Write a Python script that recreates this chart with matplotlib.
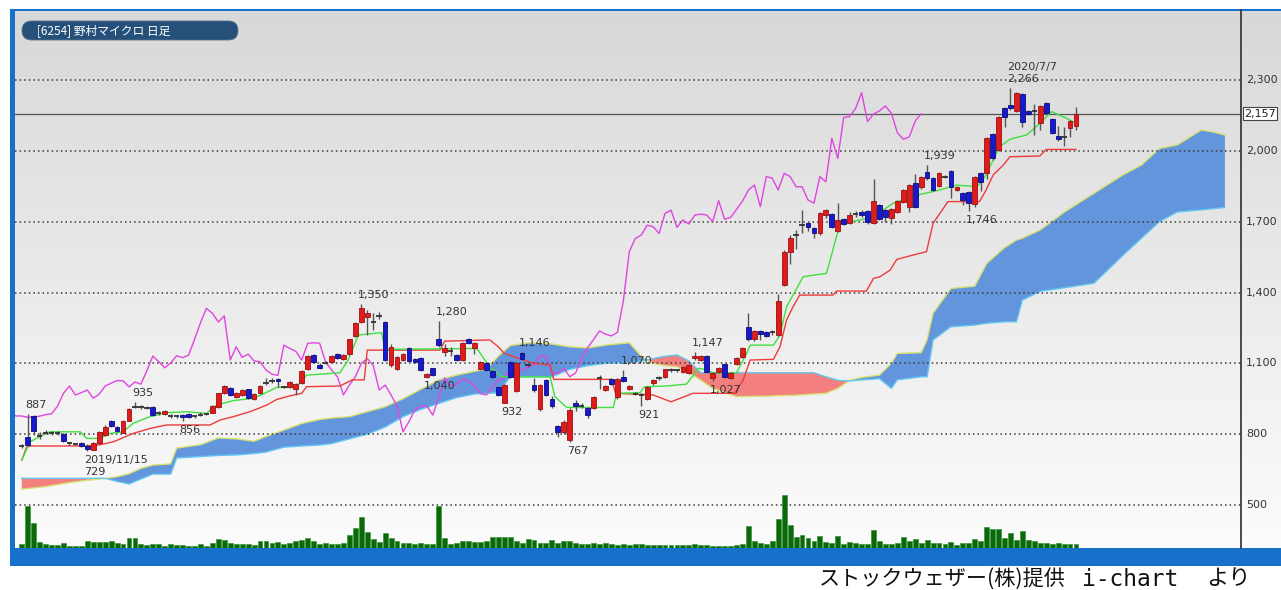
import numpy as np
import matplotlib
matplotlib.use("Agg")
import matplotlib.pyplot as plt
from matplotlib.patches import Rectangle, FancyBboxPatch
from matplotlib.colors import LinearSegmentedColormap

plt.rcParams['font.family'] = ['DejaVu Sans']
CJK = ['Noto Sans CJK JP', 'DejaVu Sans']

# ---------------- data (daily candles, index 0 = 2019/10/30) ----------------
opens = [750, 786, 877, 795, 808, 803, 804, 800, 764, 760,
         764, 752, 735, 761, 796, 857, 832, 806, 857, 915,
         916, 913, 916, 892, 884, 879, 878, 880, 885, 877,
         884, 885, 891, 916, 976, 994, 956, 966, 990, 947,
         973, 1014, 1025, 1035, 1002, 998, 993, 1015, 1074, 1134,
         1095, 1104, 1107, 1139, 1118, 1139, 1216, 1276, 1296, 1277,
         1300, 1276, 1093, 1074, 1114, 1166, 1120, 1121, 1043, 1079,
         1201, 1149, 1153, 1135, 1114, 1203, 1163, 1074, 1100, 1067,
         1001, 933, 1107, 984, 1143, 1094, 1008, 905, 1029, 951,
         834, 810, 775, 930, 921, 912, 909, 1040, 987, 1032,
         956, 1043, 991, 974, 968, 951, 1015, 1036, 1043, 1071,
         1071, 1064, 1060, 1121, 1114, 1132, 1036, 1064, 1096, 1036,
         1097, 1128, 1255, 1201, 1238, 1234, 1230, 1220, 1432, 1573,
         1640, 1686, 1693, 1674, 1650, 1728, 1732, 1662, 1710, 1693,
         1733, 1742, 1745, 1696, 1770, 1749, 1714, 1742, 1785, 1764,
         1862, 1848, 1912, 1884, 1851, 1893, 1916, 1834, 1823, 1827,
         1775, 1905, 1905, 2071, 2003, 2180, 2194, 2170, 2239, 2170,
         2171, 2119, 2201, 2133, 2063, 2061, 2095, 2105]
highs = [757, 887, 882, 808, 818, 812, 812, 804, 768, 764,
         766, 760, 765, 815, 838, 862, 836, 860, 910, 935,
         925, 918, 920, 897, 901, 885, 882, 884, 888, 882,
         892, 890, 922, 976, 1008, 998, 980, 990, 993, 973,
         1008, 1036, 1036, 1040, 1006, 1024, 1015, 1072, 1135, 1138,
         1100, 1110, 1135, 1145, 1140, 1205, 1276, 1350, 1328, 1314,
         1318, 1280, 1180, 1130, 1143, 1170, 1124, 1125, 1058, 1082,
         1280, 1180, 1170, 1140, 1190, 1206, 1190, 1112, 1104, 1071,
         1006, 1012, 1110, 1105, 1146, 1100, 1040, 1012, 1035, 960,
         840, 860, 910, 945, 930, 916, 960, 1050, 1010, 1040,
         1037, 1070, 1010, 980, 975, 1005, 1035, 1045, 1078, 1080,
         1078, 1090, 1098, 1147, 1135, 1136, 1062, 1084, 1100, 1064,
         1125, 1170, 1312, 1242, 1242, 1238, 1240, 1392, 1578, 1643,
         1664, 1750, 1700, 1678, 1740, 1752, 1736, 1778, 1714, 1740,
         1745, 1750, 1748, 1880, 1775, 1752, 1756, 1790, 1840, 1860,
         1900, 1895, 1939, 1888, 1910, 1898, 1920, 1852, 1827, 1830,
         1895, 1910, 2058, 2075, 2146, 2185, 2266, 2250, 2243, 2174,
         2200, 2194, 2205, 2137, 2105, 2100, 2130, 2185]
lows = [740, 748, 795, 780, 800, 798, 795, 768, 755, 754,
        747, 729, 731, 758, 792, 830, 811, 803, 855, 910,
        905, 905, 878, 882, 880, 870, 870, 856, 868, 870,
        876, 880, 888, 912, 972, 962, 952, 962, 950, 944,
        970, 1008, 1018, 998, 995, 994, 966, 1012, 1070, 1103,
        1078, 1096, 1103, 1120, 1114, 1135, 1212, 1270, 1220, 1240,
        1286, 1110, 1085, 1070, 1110, 1105, 1100, 1066, 1040, 1045,
        1170, 1130, 1130, 1110, 1110, 1183, 1140, 1070, 1068, 1038,
        962, 932, 1040, 980, 1115, 1085, 980, 900, 960, 910,
        790, 800, 767, 900, 912, 870, 905, 990, 982, 1008,
        950, 1020, 985, 965, 921, 945, 1010, 1028, 1040, 1064,
        1064, 1060, 1056, 1116, 1110, 1060, 1027, 1060, 1040, 1032,
        1093, 1124, 1196, 1196, 1200, 1210, 1220, 1215, 1428, 1520,
        1586, 1650, 1660, 1630, 1645, 1715, 1672, 1658, 1686, 1690,
        1720, 1720, 1690, 1690, 1705, 1700, 1690, 1738, 1780, 1740,
        1760, 1840, 1878, 1830, 1845, 1886, 1800, 1830, 1770, 1746,
        1763, 1830, 1880, 1960, 1998, 2100, 2175, 2165, 2100, 2150,
        2067, 2090, 2155, 2073, 2040, 2020, 2060, 2090]
closes = [752, 756, 813, 793, 806, 804, 803, 772, 761, 758,
          750, 736, 762, 810, 832, 834, 815, 857, 905, 917,
          914, 911, 881, 890, 898, 877, 877, 871, 874, 876,
          883, 886, 919, 973, 1004, 966, 976, 987, 952, 970,
          1004, 1016, 1027, 1026, 1000, 1021, 1012, 1069, 1131, 1107,
          1081, 1102, 1132, 1124, 1135, 1201, 1272, 1333, 1312, 1275,
          1301, 1114, 1170, 1125, 1139, 1110, 1107, 1072, 1054, 1049,
          1177, 1163, 1151, 1114, 1185, 1187, 1185, 1107, 1072, 1043,
          966, 1008, 1043, 1100, 1120, 1092, 987, 1008, 966, 919,
          810, 853, 902, 919, 920, 881, 956, 1038, 1004, 1012,
          1033, 1025, 1005, 972, 966, 1001, 1029, 1037, 1074, 1072,
          1070, 1085, 1093, 1132, 1131, 1064, 1057, 1079, 1043, 1060,
          1121, 1166, 1201, 1237, 1224, 1216, 1231, 1365, 1573, 1629,
          1643, 1685, 1679, 1650, 1735, 1749, 1676, 1707, 1690, 1728,
          1732, 1728, 1700, 1789, 1710, 1718, 1752, 1787, 1834, 1855,
          1764, 1891, 1884, 1834, 1905, 1891, 1848, 1848, 1792, 1778,
          1891, 1869, 2053, 1968, 2142, 2145, 2180, 2246, 2124, 2156,
          2169, 2190, 2159, 2077, 2049, 2059, 2126, 2157]
volumes = [12, 125, 75, 18, 11, 9, 9, 14, 7, 7,
           7, 20, 17, 17, 17, 20, 15, 11, 30, 30,
           11, 9, 12, 11, 6, 13, 9, 9, 6, 6,
           12, 6, 15, 27, 25, 14, 11, 12, 11, 9,
           22, 22, 14, 18, 13, 14, 20, 25, 29, 20,
           12, 14, 12, 12, 14, 38, 60, 92, 47, 27,
           18, 44, 30, 22, 14, 14, 12, 14, 11, 11,
           125, 30, 13, 14, 20, 20, 18, 18, 22, 32,
           32, 32, 32, 22, 15, 27, 24, 15, 15, 24,
           14, 22, 20, 14, 12, 11, 14, 11, 14, 11,
           9, 11, 9, 12, 11, 9, 8, 9, 9, 8,
           9, 9, 10, 12, 10, 9, 6, 5, 5, 7,
           8, 11, 65, 20, 14, 12, 20, 88, 160, 70,
           33, 40, 30, 20, 37, 18, 15, 35, 11, 17,
           15, 12, 13, 55, 20, 11, 11, 15, 32, 20,
           28, 14, 23, 15, 14, 11, 18, 9, 14, 15,
           28, 22, 62, 57, 58, 30, 45, 25, 50, 23,
           20, 14, 14, 11, 14, 11, 12, 12]

# conversion line (green) and base line (red), read as vertices
tenkan_x = [0, 1.4, 3, 4.7, 9.8, 10.9, 13.1, 14.8, 17, 18.7, 21.5, 24.3, 27.7, 31, 32.7,
            35.5, 38.9, 40.5, 42.8, 45.6, 46.7, 47.8, 53.4, 54.8, 56.5, 60.4, 61, 76.4,
            78.6, 80.6, 88.7, 89.5, 91.5, 99.3, 99.9, 103.8, 104.6, 108.3, 111.6, 113.6,
            115, 116, 120, 121.7, 122.3, 126.2, 127.3, 128.4, 131.2, 135.1, 137.4, 140.7,
            143, 146.3, 150.8, 154.1, 156.9, 160.3, 161.4, 163.1, 164.2, 165.9, 168.7,
            170.9, 172.9, 175.4, 177]
tenkan_v = [690, 768, 789, 810, 810, 782, 782, 803, 810, 846, 874, 891, 895, 888, 923,
            942, 952, 970, 998, 998, 1015, 1050, 1060, 1114, 1220, 1230, 1159, 1163,
            1083, 1043, 1043, 959, 913, 913, 973, 976, 1001, 1004, 1012, 1079,
            1072, 1060, 1060, 1142, 1177, 1177, 1220, 1340, 1467, 1481, 1693, 1707,
            1721, 1778, 1815, 1834, 1855, 1848, 1876, 1961, 2018, 2049, 2067,
            2116, 2166, 2138, 2116]
kijun_x = [0, 0.8, 1.5, 10.9, 13.1, 15.4, 18.7, 21.5, 24.3, 31.6, 33.3, 35.5, 38.3, 41.1,
           42.8, 45.6, 47, 47.8, 53.4, 55.5, 57.5, 58, 70.2, 71, 78.6, 80, 81, 85.9, 88.7,
           89.3, 99, 99.7, 106, 109, 112.7, 119.7, 121.1, 122.3, 126.2, 127.3, 128.4,
           129.5, 130.6, 136.2, 136.8, 141.8, 143, 144.1, 145.8, 146.9, 149.7, 151.9,
           153, 155.5, 160.8, 161.9, 163.1, 164.8, 165.9, 170.9, 172, 177]
kijun_v = [690, 745, 750, 750, 755, 768, 803, 824, 839, 839, 860, 874, 895, 923,
           947, 966, 973, 1001, 1004, 1030, 1030, 1156, 1156, 1194, 1199, 1170, 1142, 1100, 1093,
           1032, 1032, 973, 966, 937, 973, 973, 1029, 1114, 1117, 1170, 1283,
           1340, 1389, 1389, 1406, 1406, 1460, 1467, 1495, 1540, 1559, 1573,
           1693, 1785, 1785, 1834, 1898, 1940, 1975, 1978, 2006, 2006]

# leading spans (cloud), read at common positions
cloud_x = [0, 4, 8, 11, 14, 16, 18, 20, 22, 25, 26, 30, 33, 36, 39, 41, 44, 47, 50, 52,
           55, 58, 61, 64, 67, 70, 73, 76, 78, 80, 82, 85, 89, 92, 95, 98, 102, 104, 106,
           108, 110, 112, 114, 116, 120, 125, 130, 133, 135, 137, 139, 141, 144, 146,
           147, 151, 152, 153, 156, 160, 162, 165, 167, 168, 171, 175, 180, 185, 188,
           191, 194, 198, 200, 202]
span_a = [567, 578, 595, 605, 612, 620, 632, 655, 669, 674, 741, 755, 784, 780, 770, 790,
          817, 845, 862, 868, 874, 895, 916, 950, 990, 1030, 1050, 1066, 1075, 1130, 1175,
          1187, 1182, 1170, 1165, 1177, 1187, 1130, 1100, 1090, 1086, 1060, 1029, 994, 959,
          961, 965, 970, 973, 994, 1028, 1040, 1050, 1100, 1142, 1145, 1200, 1312, 1417,
          1427, 1523, 1590, 1622, 1630, 1665, 1740, 1820, 1900, 1940, 2010, 2025, 2088,
          2080, 2067]
span_b = [613, 613, 613, 613, 613, 600, 589, 610, 631, 631, 699, 705, 710, 712, 718, 724,
          745, 750, 754, 760, 780, 800, 830, 874, 905, 930, 955, 970, 973, 975, 1043,
          1043, 1043, 1075, 1090, 1100, 1103, 1110, 1120, 1130, 1135, 1110, 1060, 1060,
          1060, 1060, 1060, 1060, 1043, 1028, 1025, 1030, 1035, 994, 1030, 1043, 1043,
          1199, 1255, 1262, 1270, 1276, 1276, 1368, 1405, 1420, 1439, 1560, 1630, 1700,
          1741, 1750, 1755, 1760]

price_ticks = [500, 800, 1100, 1400, 1700, 2000, 2300]
date_idx = [12, 27, 42, 57, 72, 87, 102, 117, 132, 147, 162, 177, 192]
date_labels = ['19/11/18', '19/12/9', '19/12/30', '20/1/27', '20/2/18', '20/3/11',
               '20/4/2', '20/4/23', '20/5/20', '20/6/10', '20/7/1', '20/7/22', '20/8/5']
last_price = 2157
# (candle index, value, 'hi'/'lo', date text)
marks = [(1, 887, 'hi', ''), (19, 935, 'hi', ''), (27, 856, 'lo', ''),
         (11, 729, 'lo', '2019/11/15'), (57, 1350, 'hi', ''), (70, 1280, 'hi', ''),
         (68, 1040, 'lo', ''), (84, 1146, 'hi', ''), (81, 932, 'lo', ''),
         (92, 767, 'lo', ''), (101, 1070, 'hi', ''), (104, 921, 'lo', ''),
         (113, 1147, 'hi', ''), (116, 1027, 'lo', ''), (152, 1939, 'hi', ''),
         (159, 1746, 'lo', ''), (166, 2266, 'hi', '2020/7/7')]
title = '[6254] 野村マイクロ 日足'
credit_parts = ['ストックウェザー(株)提供', 'i-chart', 'より']

# ---------------- layout ----------------
W, H = 1281, 590
PL, PR, PT, PB = 15, 1241, 10, 548          # plot box in pixels
X0, DX = 21.8, 5.956                          # first candle pixel, spacing
Y_REF, Y_REF_PX, PX_PER = 2300, 80, 425 / 1800

fig = plt.figure(figsize=(W / 100, H / 100), dpi=100)

bg = fig.add_axes([0, 0, 1, 1], zorder=0)
grad = np.linspace(0, 1, 256)[:, None]
cmap = LinearSegmentedColormap.from_list('g', ['#d8d8d8', '#fcfcfc'])
bg.imshow(grad, extent=(PL, W, PB, PT), cmap=cmap, aspect='auto', origin='upper')
bg.set_xlim(0, W); bg.set_ylim(H, 0); bg.axis('off')

rect = [PL / W, 1 - PB / H, (PR - PL) / W, (PB - PT) / H]
ax = fig.add_axes(rect, zorder=2)
ax.patch.set_alpha(0)
xlim = ((PL - X0) / DX, (PR - X0) / DX)
ylim = (Y_REF - (PB - Y_REF_PX) / PX_PER, Y_REF + (Y_REF_PX - PT) / PX_PER)
ax.set_xlim(*xlim); ax.set_ylim(*ylim)
ax.set_axis_off()

vax = fig.add_axes([PL / W, 1 - PB / H, (PR - PL) / W, 54 / H], zorder=1.5)
vax.patch.set_alpha(0)
vax.set_xlim(*xlim); vax.set_ylim(0, 162)
vax.set_axis_off()

idx = np.arange(len(closes))
o = np.array(opens); h = np.array(highs); l = np.array(lows); c = np.array(closes)

# volume
vax.bar(idx, volumes, width=0.82, color='#0b680b', edgecolor='#3b953b', lw=0.5)

# cloud
cx = np.array(cloud_x, float); sa = np.array(span_a, float); sb = np.array(span_b, float)
ax.fill_between(cx, sa, sb, where=sa >= sb, interpolate=True, color='#6395dc', lw=0, zorder=1)
ax.fill_between(cx, sa, sb, where=sa < sb, interpolate=True, color='#f47f7f', lw=0, zorder=1)
ax.plot(cx, sa, color='#d8e070', lw=1.0, zorder=1.5)
ax.plot(cx, sb, color='#62c6f2', lw=1.0, zorder=1.5)

# grid + last price
ax.hlines(price_ticks, xlim[0], xlim[1], colors='#3a3a3a', linestyles=(0, (1, 2)), lw=1.1, zorder=2)
ax.axhline(last_price, color='#555555', lw=0.9, zorder=2)

# lagging span (closes shifted back 26 sessions), conversion and base lines
ax.plot(idx - 26, c, color='#e045e0', lw=1.0, zorder=3)
ax.plot(kijun_x, kijun_v, color='#ee3b3b', lw=1.0, zorder=3.2)
ax.plot(tenkan_x, tenkan_v, color='#3fe03f', lw=1.0, zorder=3.4)

# candles
ax.vlines(idx, l, h, color='#555555', lw=1.0, zorder=5)
body = np.abs(c - o)
doji = body < 4
upm = (c >= o) & ~doji
dnm = (c < o) & ~doji
ax.bar(idx[upm], body[upm], bottom=np.minimum(o, c)[upm], width=0.8,
       color='#e01b1b', edgecolor='#9c1010', lw=0.6, zorder=6)
ax.bar(idx[dnm], body[dnm], bottom=np.minimum(o, c)[dnm], width=0.8,
       color='#1818cf', edgecolor='#0c0c7a', lw=0.6, zorder=6)
ax.hlines(c[doji], idx[doji] - 0.45, idx[doji] + 0.45, colors='#333333', lw=1.3, zorder=6)

# high / low marks
for i, v, kind, date in marks:
    lines = [date, f'{v:,}'] if date else [f'{v:,}']
    if kind == 'hi':
        ax.annotate('\n'.join(lines), (i, v), xytext=(-3, 4), textcoords='offset pixels',
                    ha='left', va='bottom', fontsize=8, color='#333333', linespacing=1.25, zorder=7)
    else:
        ax.annotate('\n'.join(lines), (i, v), xytext=(-3, -4), textcoords='offset pixels',
                    ha='left', va='top', fontsize=8, color='#333333', linespacing=1.25, zorder=7)

# price labels on the right
ytr = ax.get_yaxis_transform()
for t in price_ticks:
    ax.text(1 + 5 / (PR - PL), t, f'{t:,}', transform=ytr, ha='left', va='center',
            fontsize=8, color='#333333', clip_on=False)
ax.text(1 + 3 / (PR - PL), last_price, f'{last_price:,}', transform=ytr, ha='left', va='center',
        fontsize=8, color='#222222', clip_on=False,
        bbox=dict(boxstyle='square,pad=0.12', fc='white', ec='#444444', lw=0.8))

# overlay frame
ov = fig.add_axes([0, 0, 1, 1], zorder=3)
ov.patch.set_alpha(0)
ov.set_xlim(0, W); ov.set_ylim(H, 0); ov.axis('off')
blue = '#1770c9'
ov.add_patch(Rectangle((10, 8.5), W - 10, 2.5, color=blue, lw=0))
ov.add_patch(Rectangle((10, 8.5), 5, 566 - 8.5, color=blue, lw=0))
ov.add_patch(Rectangle((10, PB), W - 10, 566 - PB, color=blue, lw=0))
ov.plot([PR, PR], [PT, PB], color='#3c3c3c', lw=1.3)
ov.add_patch(FancyBboxPatch((22, 21), 216, 19, boxstyle='round,pad=0,rounding_size=9.5',
                            fc='#245079', ec='#5a6f85', lw=0.6))
ov.text(37, 31, title, color='white', fontsize=8.5, va='center', ha='left', family=CJK)
ov.text(819, 579, credit_parts[0], color='#111111', fontsize=15.2, va='center', ha='left', family=CJK)
ov.text(1082, 579, credit_parts[1], color='#111111', fontsize=16.5, va='center', ha='left',
        family=['DejaVu Sans Mono'])
ov.text(1206, 579, credit_parts[2], color='#111111', fontsize=16, va='center', ha='left', family=CJK)

# date labels in the blue bar
xtr = ax.get_xaxis_transform()
for di, lab in zip(date_idx, date_labels):
    ax.text(di - 0.5, -9 / (PB - PT), lab, transform=xtr, ha='left', va='center',
            fontsize=8, color='#dce8f6', clip_on=False, zorder=10)

fig.savefig('out.png', dpi=100)
